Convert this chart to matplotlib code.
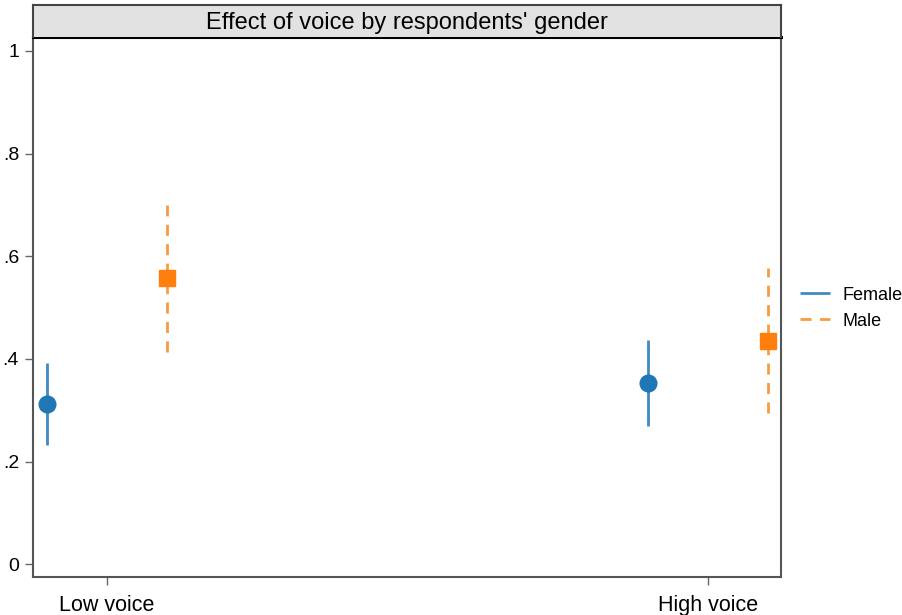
import matplotlib.pyplot as plt

plt.rcParams['font.family'] = ['Liberation Sans', 'DejaVu Sans']

# Data
groups = ['Low voice', 'High voice']
female_est = [0.312, 0.353]
female_lo = [0.232, 0.269]
female_hi = [0.392, 0.437]
male_est = [0.557, 0.435]
male_lo = [0.413, 0.294]
male_hi = [0.700, 0.577]
yticks = [0, 0.2, 0.4, 0.6, 0.8, 1]
ytick_labels = ['0', '.2', '.4', '.6', '.8', '1']

offset = 0.1
blue = '#1f77b4'
orange = '#ff7f0e'

fig = plt.figure(figsize=(9.03, 6.15), dpi=100)
ax = fig.add_axes([0.0365, 0.0618, 0.8285, 0.878])

xs = range(len(groups))
for i in xs:
    ax.plot([i - offset, i - offset], [female_lo[i], female_hi[i]], color='#3d8ac4',
            lw=2, solid_capstyle='butt', label='Female' if i == 0 else None)
    ax.plot([i + offset, i + offset], [male_lo[i], male_hi[i]], color='#f99a45',
            lw=2, ls=(0, (4, 3)), label='Male' if i == 0 else None)
    ax.plot(i - offset, female_est[i], 'o', color=blue, ms=12, zorder=3)
    ax.plot(i + offset, male_est[i], 's', color=orange, ms=12, zorder=3)

ax.set_xlim(-0.123, 1.121)
ax.set_ylim(-0.025, 1.027)
ax.set_xticks(list(xs))
ax.set_xticklabels(groups, fontsize=15.5)
ax.set_yticks(yticks)
ax.set_yticklabels(ytick_labels, fontsize=14)
ax.tick_params(axis='both', length=6, width=1, color='#666666', pad=4)
ax.tick_params(axis='x', pad=7)

for side in ['left', 'bottom', 'right']:
    ax.spines[side].set_color('#555555')
    ax.spines[side].set_linewidth(1.5)
ax.spines['top'].set_color('black')
ax.spines['top'].set_linewidth(2.2)

# Title strip
tb = fig.add_axes([0.0365, 0.9398, 0.8285, 0.052])
tb.set_facecolor('#e2e2e2')
tb.set_xticks([])
tb.set_yticks([])
for s in tb.spines.values():
    s.set_color('#444444')
    s.set_linewidth(1.5)
tb.spines['bottom'].set_visible(False)
tb.text(0.5, 0.45, "Effect of voice by respondents' gender", ha='center', va='center',
        fontsize=17, transform=tb.transAxes)

ax.legend(loc='center left', bbox_to_anchor=(1.025, 0.498), frameon=False, fontsize=13,
          borderpad=0, borderaxespad=0, handlelength=1.65, handletextpad=0.7,
          labelspacing=0.5)

fig.savefig('out.png', dpi=100)
